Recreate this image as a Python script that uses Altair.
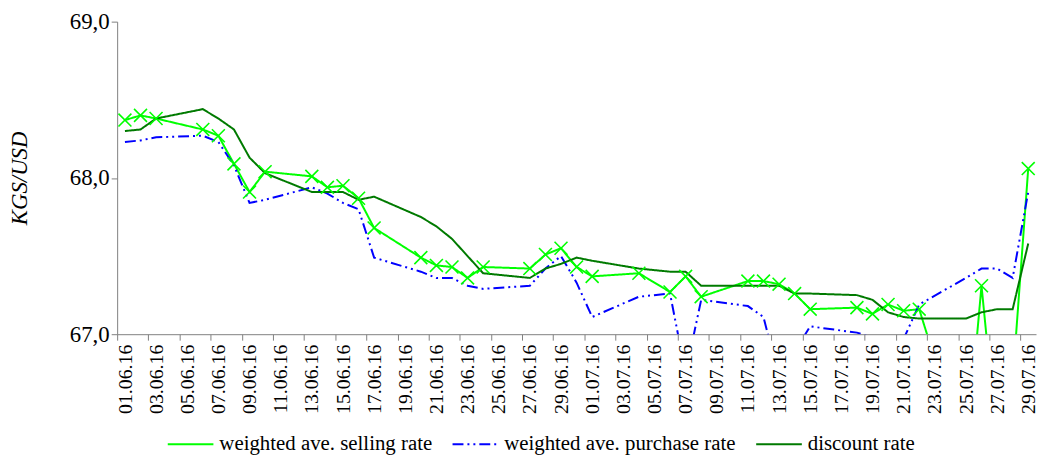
import altair as alt
import pandas as pd

dates = [
    "2016-06-01", "2016-06-02", "2016-06-03", "2016-06-06", "2016-06-07", "2016-06-08",
    "2016-06-09", "2016-06-10", "2016-06-13", "2016-06-14", "2016-06-15", "2016-06-16",
    "2016-06-17", "2016-06-20", "2016-06-21", "2016-06-22", "2016-06-23", "2016-06-24",
    "2016-06-27", "2016-06-28", "2016-06-29", "2016-06-30", "2016-07-01", "2016-07-04",
    "2016-07-06", "2016-07-07", "2016-07-08", "2016-07-11", "2016-07-12", "2016-07-13",
    "2016-07-14", "2016-07-15", "2016-07-18", "2016-07-19", "2016-07-20", "2016-07-21",
    "2016-07-22", "2016-07-25", "2016-07-26", "2016-07-27", "2016-07-28", "2016-07-29",
]

selling = [
    68.37, 68.40, 68.38, 68.31, 68.27, 68.09, 67.91, 68.04, 68.01, 67.94, 67.95, 67.87,
    67.68, 67.49, 67.44, 67.43, 67.36, 67.43, 67.42, 67.51, 67.55, 67.43, 67.37, 67.39,
    67.27, 67.37, 67.24, 67.34, 67.34, 67.32, 67.26, 67.16, 67.17, 67.13, 67.19, 67.15,
    67.16, 66.20, 67.31, 66.30, 66.70, 68.06,
]

purchase = [
    68.23, 68.24, 68.26, 68.27, 68.23, 68.08, 67.84, 67.86, 67.94, 67.90, 67.84, 67.80,
    67.49, 67.40, 67.36, 67.36, 67.31, 67.29, 67.31, 67.42, 67.50, 67.33, 67.11, 67.24,
    67.26, 66.75, 67.22, 67.18, 67.11, 66.72, 66.89, 67.05, 67.01, 66.98, 66.96, 66.97,
    67.19, 67.36, 67.42, 67.42, 67.36, 67.91,
]

discount = [
    68.30, 68.31, 68.38, 68.44, 68.38, 68.31, 68.13, 68.03, 67.91, 67.91, 67.91, 67.86,
    67.88, 67.75, 67.69, 67.61, 67.50, 67.39, 67.36, 67.42, 67.45, 67.49, 67.47, 67.42,
    67.40, 67.40, 67.31, 67.31, 67.31, 67.31, 67.26, 67.26, 67.25, 67.22, 67.14, 67.11,
    67.10, 67.10, 67.14, 67.16, 67.16, 67.58,
]

series_names = [
    "weighted ave. selling rate",
    "weighted ave. purchase rate",
    "discount rate",
]
series_colors = ["#00FF00", "#0000FF", "#007A00"]
series_dashes = [[1, 0], [11, 4, 2, 4, 2, 4], [1, 0]]

tick_days = [(6, d) for d in range(1, 31, 2)] + [(7, d) for d in range(1, 30, 2)]

rows = []
for name, vals in zip(series_names, [selling, purchase, discount]):
    for d, v in zip(dates, vals):
        rows.append({"date": d + "T12:00:00", "rate": v, "series": name})
df = pd.DataFrame(rows)

FONT = "'Liberation Serif', 'Times New Roman', Times, 'DejaVu Serif', serif"

x_enc = alt.X(
    "date:T",
    title=None,
    scale=alt.Scale(
        domain=[alt.DateTime(year=2016, month=6, date=1), alt.DateTime(year=2016, month=7, date=30)]
    ),
    axis=alt.Axis(
        values=[alt.DateTime(year=2016, month=m, date=d) for m, d in tick_days],
        format="%d.%m.%y",
        labelAngle=270,
        labelOffset=8,
        labelPadding=4,
        labelFont=FONT,
        labelFontSize=20,
        labelColor="#000000",
        labelOverlap=False,
        labelFlush=False,
        tickSize=6,
        tickColor="#808080",
        domainColor="#808080",
        grid=False,
    ),
)

y_enc = alt.Y(
    "rate:Q",
    title="KGS/USD",
    scale=alt.Scale(domain=[67, 69], nice=False, zero=False),
    axis=alt.Axis(
        values=[67, 68, 69],
        labelExpr="replace(format(datum.value, '.1f'), '.', ',')",
        labelFont=FONT,
        labelFontSize=23,
        labelColor="#000000",
        labelPadding=2,
        tickSize=6,
        tickColor="#808080",
        domainColor="#808080",
        grid=False,
        titleFont=FONT,
        titleFontSize=23,
        titleFontStyle="italic",
        titleFontWeight="normal",
        titleColor="#000000",
        titlePadding=38,
    ),
)

legend = alt.Legend(
    title=None,
    orient="none",
    legendX=50,
    legendY=402,
    direction="horizontal",
    symbolType="stroke",
    symbolSize=2116,
    symbolStrokeWidth=2,
    labelFont=FONT,
    labelFontSize=21,
    labelColor="#000000",
    labelLimit=400,
    labelOffset=5,
    columnPadding=16,
    padding=0,
)

lines = alt.Chart(df).mark_line(clip=True, strokeWidth=2).encode(
    x=x_enc,
    y=y_enc,
    color=alt.Color(
        "series:N",
        scale=alt.Scale(domain=series_names, range=series_colors),
        legend=legend,
    ),
    strokeDash=alt.StrokeDash(
        "series:N",
        scale=alt.Scale(domain=series_names, range=series_dashes),
        legend=legend,
    ),
)

markers = (
    alt.Chart(df)
    .transform_filter(alt.datum.series == series_names[0])
    .mark_point(
        shape="M-1,-1L1,1M-1,1L1,-1",
        filled=False,
        size=170,
        strokeWidth=1.6,
        color="#00FF00",
        opacity=1,
        clip=True,
    )
    .encode(x=x_enc, y=y_enc)
)

chart = (
    alt.layer(lines, markers)
    .properties(
        width=926,
        height=315,
        padding={"left": 110, "top": 12, "right": 2, "bottom": 120},
        autosize=alt.AutoSizeParams(type="none"),
        background="#FFFFFF",
    )
    .configure_view(stroke=None)
)

chart.save("out.html", embed_options={"renderer": "svg", "actions": False})
